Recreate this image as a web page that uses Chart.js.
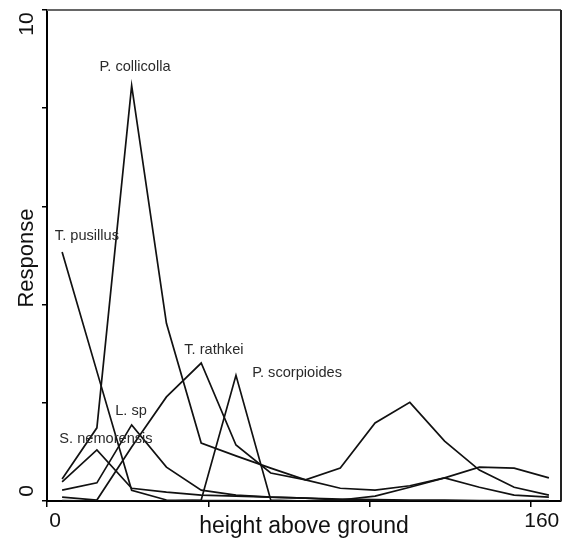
<!DOCTYPE html>
<html><head><meta charset="utf-8">
<script src="https://cdn.jsdelivr.net/npm/chart.js@4.4.0/dist/chart.umd.min.js"></script>
<style>html,body{margin:0;padding:0;background:#fff;}</style>
</head><body>
<canvas id="c" width="576" height="540"></canvas>
<script>
// x categories: height above ground (bin centres)
const heights = [5, 16.5, 28, 39.5, 51, 62.5, 74, 85.5, 97, 108.5, 120, 131.5, 143, 154.5, 166];

// responses per species
const pCollicolla  = [0.45, 1.49, 8.46, 3.62, 1.18, 0.92, 0.67, 0.43, 0.26, 0.22, 0.31, 0.47, 0.69, 0.67, 0.47];
const tRathkei     = [0.08, 0.02, 1.10, 2.12, 2.81, 1.14, 0.57, 0.43, 0.67, 1.59, 2.01, 1.22, 0.63, 0.28, 0.12];
const tPusillus    = [5.07, 2.64, 0.22, 0.02, 0.01, 0.01, 0.00, 0.00, 0.00, 0.00, 0.00, 0.00, 0.00, 0.00, 0.00];
const lSp          = [0.22, 0.37, 1.55, 0.69, 0.22, 0.12, 0.08, 0.06, 0.02, 0.10, 0.28, 0.47, 0.28, 0.12, 0.08];
const sNemorensis  = [0.39, 1.04, 0.26, 0.18, 0.12, 0.10, 0.08, 0.06, 0.04, 0.03, 0.02, 0.02, 0.01, 0.01, 0.01];
const pScorpioides = [0.01, 0.00, 0.00, 0.00, 0.02, 2.56, 0.02, 0.00, 0.00, 0.00, 0.00, 0.00, 0.00, 0.00, 0.00];

const seriesList = [pCollicolla, tRathkei, tPusillus, lSp, sNemorensis, pScorpioides];

// species label anchors (data units)
const labelNames = ['P. collicolla', 'T. pusillus', 'T. rathkei', 'P. scorpioides', 'L. sp', 'S. nemorensis'];
const labelX     = [29.1, 13.2, 55.2, 82.7, 27.8, 19.5];
const labelY     = [8.83, 5.39, 3.07, 2.60, 1.83, 1.26];

// axis ticks
const xTickValues = [0, 160/3, 320/3, 160];
const yTickValues = [0, 2, 4, 6, 8, 10];
const xTickLabels = [{v: 0, t: '0'}, {v: 160, t: '160'}];
const yTickLabels = [{v: 0, t: '0'}, {v: 10, t: '10'}];

const datasets = seriesList.map(s => ({
  data: heights.map((h, i) => ({x: h, y: s[i]})),
  borderColor: '#111',
  borderWidth: 1.7,
  pointRadius: 0,
  tension: 0,
  fill: false
}));

const decor = {
  id: 'decor',
  afterDraw(chart) {
    const ctx = chart.ctx, a = chart.chartArea;
    const xs = chart.scales.x, ys = chart.scales.y;
    ctx.save();
    // top and right frame
    ctx.strokeStyle = '#666'; ctx.lineWidth = 2;
    ctx.beginPath(); ctx.moveTo(a.left, a.top); ctx.lineTo(a.right, a.top); ctx.stroke();
    ctx.strokeStyle = '#222';
    ctx.beginPath(); ctx.moveTo(a.right, a.top); ctx.lineTo(a.right, a.bottom); ctx.stroke();
    // species labels
    ctx.fillStyle = '#2a2a2a';
    ctx.font = '14.6px "Liberation Sans", Arial, sans-serif';
    ctx.textAlign = 'center'; ctx.textBaseline = 'middle';
    labelNames.forEach((n, i) => {
      ctx.fillText(n, xs.getPixelForValue(labelX[i]), ys.getPixelForValue(labelY[i]));
    });
    // tick labels
    ctx.fillStyle = '#111';
    ctx.font = '21px "Liberation Sans", Arial, sans-serif';
    xTickLabels.forEach(l => {
      const px = xs.getPixelForValue(l.v);
      const off = l.v === 0 ? 8 : 11;
      ctx.fillText(l.t, px + off, a.bottom + 20);
    });
    yTickLabels.forEach(l => {
      const py = ys.getPixelForValue(l.v);
      const off = l.v === 0 ? -10 : 14;
      ctx.save();
      ctx.translate(27, py + off);
      ctx.rotate(-Math.PI / 2);
      ctx.fillText(l.t, 0, 0);
      ctx.restore();
    });
    // axis titles
    ctx.font = '23px "Liberation Sans", Arial, sans-serif';
    ctx.fillText('height above ground', (a.left + a.right) / 2, a.bottom + 26);
    ctx.font = '22px "Liberation Sans", Arial, sans-serif';
    ctx.save();
    ctx.translate(27, 258);
    ctx.rotate(-Math.PI / 2);
    ctx.fillText('Response', 0, 0);
    ctx.restore();
    ctx.restore();
  }
};

new Chart(document.getElementById('c'), {
  type: 'line',
  data: {datasets},
  options: {
    responsive: false,
    animation: false,
    devicePixelRatio: 1,
    layout: {padding: {top: 10, right: 15, left: 0, bottom: 0}},
    plugins: {legend: {display: false}, tooltip: {enabled: false}},
    scales: {
      x: {
        type: 'linear', min: 0, max: 170,
        afterBuildTicks: s => { s.ticks = xTickValues.map(v => ({value: v})); },
        afterFit: s => { s.height = 39; },
        ticks: {display: false},
        grid: {drawOnChartArea: false, drawTicks: true, tickLength: 6, color: '#000', lineWidth: 1.5},
        border: {display: true, color: '#000', width: 2}
      },
      y: {
        type: 'linear', min: 0, max: 10,
        afterBuildTicks: s => { s.ticks = yTickValues.map(v => ({value: v})); },
        afterFit: s => { s.width = 47; },
        ticks: {display: false},
        grid: {drawOnChartArea: false, drawTicks: true, tickLength: 5, color: '#000', lineWidth: 1.5},
        border: {display: true, color: '#000', width: 2}
      }
    }
  },
  plugins: [decor]
});
</script>
</body></html>
